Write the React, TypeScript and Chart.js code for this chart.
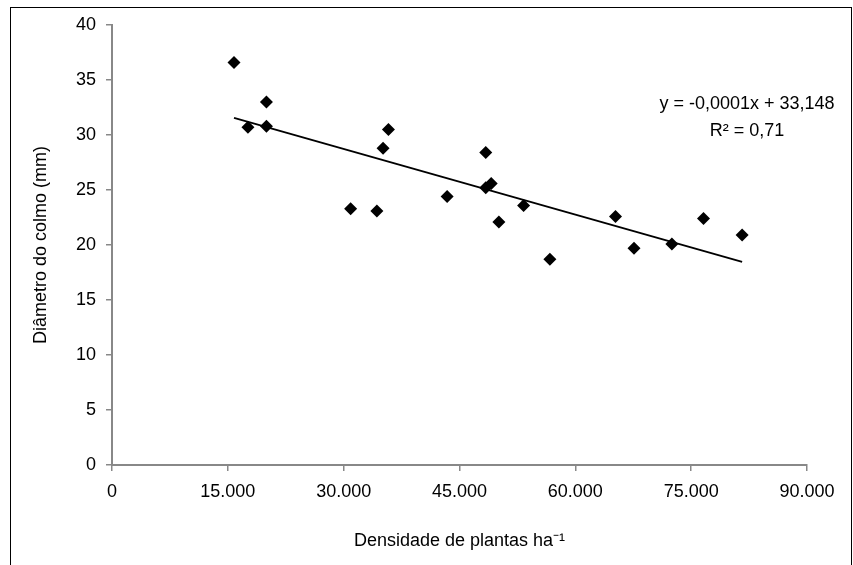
import React, { useEffect, useRef } from 'react';
import { Chart, registerables } from 'chart.js';

Chart.register(...registerables);

// plant density (plants/ha) and stem diameter (mm)
const densidade = [15800, 17600, 20000, 20000, 30900, 34300, 35100, 35800, 43400, 48400, 48400, 49100, 50100, 53300, 56700, 65200, 67600, 72500, 76600, 81600];
const diametro = [36.6, 30.7, 33.0, 30.8, 23.3, 23.1, 28.8, 30.5, 24.4, 28.4, 25.2, 25.6, 22.1, 23.6, 18.7, 22.6, 19.7, 20.1, 22.4, 20.9];

const xTicks = [0, 15000, 30000, 45000, 60000, 75000, 90000];
const yTicks = [0, 5, 10, 15, 20, 25, 30, 35, 40];

const equationLines = ['y = -0,0001x + 33,148', 'R² = 0,71'];

const FONT = '"Liberation Sans", Arial, sans-serif';

const thousands = (v: number) => String(v).replace(/\B(?=(\d{3})+(?!\d))/g, '.');

// least squares line through the points
function trendLine(xs: number[], ys: number[]) {
  const n = xs.length;
  const mx = xs.reduce((a, b) => a + b, 0) / n;
  const my = ys.reduce((a, b) => a + b, 0) / n;
  let sxy = 0;
  let sxx = 0;
  for (let i = 0; i < n; i++) {
    sxy += (xs[i] - mx) * (ys[i] - my);
    sxx += (xs[i] - mx) * (xs[i] - mx);
  }
  const b = sxy / sxx;
  const a = my - b * mx;
  const x0 = Math.min(...xs);
  const x1 = Math.max(...xs);
  return [
    { x: x0, y: a + b * x0 },
    { x: x1, y: a + b * x1 },
  ];
}

const equationPlugin = {
  id: 'equation',
  afterDraw(chart: any) {
    const { ctx, chartArea } = chart;
    ctx.save();
    ctx.font = `18px ${FONT}`;
    ctx.fillStyle = '#000';
    ctx.textAlign = 'center';
    ctx.textBaseline = 'middle';
    const cx = chartArea.right - 60;
    equationLines.forEach((line, i) => {
      ctx.fillText(line, cx, chartArea.top + 79 + i * 27);
    });
    ctx.restore();
  },
};

const App: React.FC = () => {
  const chartRef = useRef<HTMLCanvasElement | null>(null);

  useEffect(() => {
    if (!chartRef.current) return;
    const ctx = chartRef.current.getContext('2d');
    if (!ctx) return;

    const points = densidade.map((x, i) => ({ x, y: diametro[i] }));

    const myChart = new Chart(ctx, {
      type: 'scatter',
      data: {
        datasets: [
          {
            data: points,
            backgroundColor: '#000',
            borderColor: '#000',
            borderWidth: 0,
            pointStyle: 'rectRot',
            pointRadius: 6.5,
          },
          {
            data: trendLine(densidade, diametro),
            showLine: true,
            borderColor: '#000',
            borderWidth: 1.8,
            pointRadius: 0,
          } as any,
        ],
      },
      options: {
        animation: false,
        responsive: true,
        maintainAspectRatio: false,
        layout: { padding: { top: 25, right: 46, bottom: 0, left: 0 } },
        plugins: {
          legend: { display: false },
          tooltip: { enabled: false },
        },
        scales: {
          x: {
            type: 'linear',
            min: 0,
            max: 90000,
            afterBuildTicks: (scale: any) => {
              scale.ticks = xTicks.map(value => ({ value }));
            },
            afterFit: (scale: any) => {
              scale.height = 100;
            },
            ticks: {
              color: '#000',
              font: { family: FONT, size: 18 },
              padding: 10,
              maxRotation: 0,
              autoSkip: false,
              callback: (v: any) => thousands(Number(v)),
            },
            grid: { drawOnChartArea: false, tickLength: 6, color: '#888', lineWidth: 1.5 },
            border: { color: '#888', width: 2 },
            title: {
              display: true,
              text: 'Densidade de plantas ha⁻¹',
              color: '#000',
              font: { family: FONT, size: 18 },
              padding: { top: 0, bottom: 13 },
            },
          },
          y: {
            min: 0,
            max: 40,
            afterBuildTicks: (scale: any) => {
              scale.ticks = yTicks.map(value => ({ value }));
            },
            afterFit: (scale: any) => {
              scale.width = 112;
            },
            ticks: {
              color: '#000',
              font: { family: FONT, size: 18 },
              padding: 10,
            },
            grid: { drawOnChartArea: false, tickLength: 6, color: '#888', lineWidth: 1.5 },
            border: { color: '#888', width: 2 },
            title: {
              display: true,
              text: 'Diâmetro do colmo (mm)',
              color: '#000',
              font: { family: FONT, size: 18 },
              padding: { top: 30, bottom: 0 },
            },
          },
        },
      },
      plugins: [equationPlugin],
    });

    return () => {
      myChart.destroy();
    };
  }, []);

  return (
    <div style={{ position: 'fixed', left: 0, top: 0, width: 853, height: 565, overflow: 'hidden', background: '#fff' }}>
      <canvas ref={chartRef} />
      <div
        style={{
          position: 'absolute',
          left: 10,
          top: 7,
          width: 840,
          height: 620,
          border: '1.5px solid #000',
          pointerEvents: 'none',
        }}
      />
    </div>
  );
};

export default App;
